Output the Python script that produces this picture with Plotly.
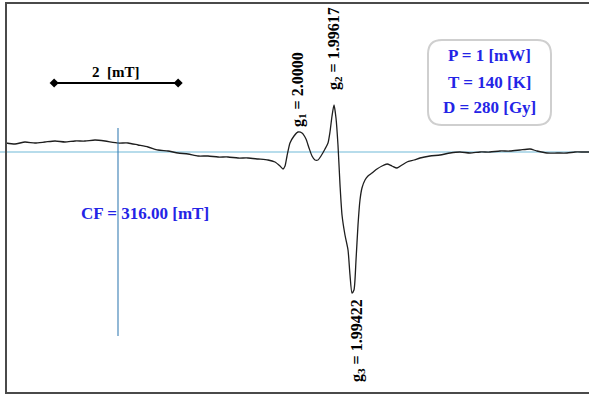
import plotly.graph_objects as go

# EPR spectrum: magnetic field (mT) and first-derivative signal (a.u.)
field_mT = [
    314.194, 314.339, 314.500, 314.661, 314.823, 314.984, 315.145, 315.306,
    315.468, 315.629, 315.790, 316.000, 316.161, 316.323, 316.484, 316.645,
    316.806, 316.968, 317.129, 317.290, 317.452, 317.613, 317.774, 317.935,
    318.097, 318.258, 318.419, 318.532, 318.613, 318.661, 318.694, 318.726,
    318.774, 318.839, 318.903, 318.968, 319.032, 319.081, 319.129, 319.177,
    319.226, 319.274, 319.339, 319.387, 319.419, 319.452, 319.484, 319.516,
    319.548, 319.581, 319.613, 319.661, 319.710, 319.742, 319.774, 319.806,
    319.839, 319.871, 319.903, 319.935, 319.984, 320.032, 320.097, 320.177,
    320.258, 320.339, 320.419, 320.500, 320.581, 320.661, 320.774, 320.871,
    321.032, 321.194, 321.355, 321.516, 321.677, 321.839, 322.000, 322.161,
    322.323, 322.484, 322.645, 322.758, 322.919, 323.081, 323.242, 323.371,
    323.500, 323.597,
]
signal = [
    0.09, 0.08, 0.10, 0.09, 0.10, 0.11, 0.10, 0.11,
    0.11, 0.12, 0.11, 0.09, 0.09, 0.07, 0.05, 0.02,
    0.01, -0.01, -0.02, -0.04, -0.04, -0.05, -0.05, -0.06,
    -0.06, -0.07, -0.08, -0.10, -0.14, -0.17, -0.14, -0.04,
    0.09, 0.16, 0.20, 0.19, 0.13, 0.04, -0.04, -0.08,
    -0.08, -0.04, 0.03, 0.09, 0.20, 0.36, 0.47, 0.34,
    0.07, -0.33, -0.63, -0.83, -0.98, -1.23, -1.41, -1.38,
    -1.08, -0.73, -0.48, -0.36, -0.28, -0.24, -0.21, -0.17,
    -0.14, -0.12, -0.14, -0.16, -0.13, -0.10, -0.08, -0.06,
    -0.04, -0.03, -0.01, 0.00, -0.01, 0.00, 0.00, 0.01,
    0.01, 0.02, 0.03, 0.01, -0.01, -0.01, -0.01, 0.00,
    0.00, 0.00,
]

center_field = 316.00          # CF, mT
scale_bar_mT = 2.0             # length of the scale bar
scale_bar_start = 314.97

g_labels = ["1", "2", "3"]
g_values = ["2.0000", "1.99617", "1.99422"]
g_label_pos = [(318.903, 0.63), (319.484, 1.03), (319.855, -1.89)]

conditions = ["P = 1 [mW]", "T = 140 [K]", "D = 280 [Gy]"]

W, H = 589, 397
BLUE = "#2424e6"
SERIF = "Liberation Serif, Times New Roman, serif"

fig = go.Figure()

# zero line
fig.add_trace(go.Scatter(
    x=[314.0, 323.7], y=[0, 0], mode="lines",
    line=dict(color="#9fd0e4", width=1.3), hoverinfo="skip", showlegend=False))

# spectrum
fig.add_trace(go.Scatter(
    x=field_mT, y=signal, mode="lines",
    line=dict(color="#1e1e1e", width=1.3, shape="spline", smoothing=0.6),
    showlegend=False))

# centre field marker
fig.add_trace(go.Scatter(
    x=[center_field, center_field], y=[0.24, -1.84], mode="lines",
    line=dict(color="#3a7fb5", width=1.1), showlegend=False))

# scale bar
fig.add_trace(go.Scatter(
    x=[scale_bar_start, scale_bar_start + scale_bar_mT], y=[0.69, 0.69],
    mode="lines+markers",
    line=dict(color="black", width=2),
    marker=dict(symbol="diamond", size=7, color="black"),
    showlegend=False))

annotations = [
    dict(x=scale_bar_start + scale_bar_mT / 2, y=0.80,
         text="<b>%g&nbsp;&nbsp;[mT]</b>" % scale_bar_mT, showarrow=False,
         xanchor="center", yanchor="middle",
         font=dict(family=SERIF, size=15, color="black")),
    dict(x=316.0 + 27 / 62, y=-0.61,
         text="<b>CF = %.2f [mT]</b>" % center_field, showarrow=False,
         xanchor="center", yanchor="middle",
         font=dict(family=SERIF, size=17, color=BLUE)),
]
for sub, val, (gx, gy) in zip(g_labels, g_values, g_label_pos):
    annotations.append(dict(
        x=gx, y=gy, text="<b>g<sub>%s</sub> = %s</b>" % (sub, val),
        textangle=-90, showarrow=False, xanchor="center", yanchor="middle",
        font=dict(family=SERIF, size=16, color="black")))

box_cx = (428 + 551) / 2 / W
for line, py in zip(conditions, [56, 82, 107.5]):
    annotations.append(dict(
        xref="paper", yref="paper", x=box_cx, y=1 - py / H,
        xanchor="center", yanchor="middle",
        text="<b>%s</b>" % line, showarrow=False,
        font=dict(family=SERIF, size=17, color=BLUE)))

# rounded box around the conditions
def px(x):
    return x / W

def py_(y):
    return 1 - y / H

x0, x1, yt, yb, r = 428, 551, 40, 125, 14
path = (
    f"M {px(x0 + r)} {py_(yt)} L {px(x1 - r)} {py_(yt)} "
    f"Q {px(x1)} {py_(yt)} {px(x1)} {py_(yt + r)} "
    f"L {px(x1)} {py_(yb - r)} Q {px(x1)} {py_(yb)} {px(x1 - r)} {py_(yb)} "
    f"L {px(x0 + r)} {py_(yb)} Q {px(x0)} {py_(yb)} {px(x0)} {py_(yb - r)} "
    f"L {px(x0)} {py_(yt + r)} Q {px(x0)} {py_(yt)} {px(x0 + r)} {py_(yt)} Z"
)
shapes = [
    dict(type="path", xref="paper", yref="paper", path=path,
         line=dict(color="#cfcfcf", width=2), fillcolor="white", layer="below"),
    # outer frame
    dict(type="rect", xref="paper", yref="paper",
         x0=px(6), x1=px(595), y0=py_(393), y1=py_(3),
         line=dict(color="#4a4a4a", width=2)),
]

fig.update_layout(
    width=W, height=H,
    margin=dict(l=0, r=0, t=0, b=0),
    paper_bgcolor="white", plot_bgcolor="white",
    xaxis=dict(range=[316 - 118 / 62, 316 + 471 / 62], visible=False),
    yaxis=dict(range=[-2.45, 1.52], visible=False),
    annotations=annotations, shapes=shapes,
    showlegend=False,
)

fig.write_html("out.html")
